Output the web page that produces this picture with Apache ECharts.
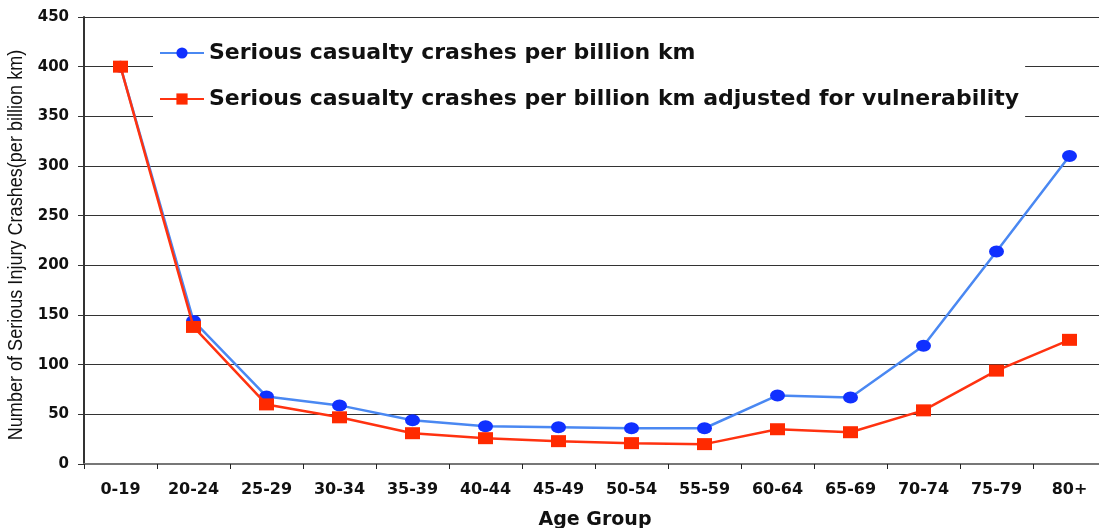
<!DOCTYPE html>
<html>
<head>
<meta charset="utf-8">
<script src="https://cdn.jsdelivr.net/npm/echarts@6/dist/echarts.min.js"></script>
<style>
  html, body { margin: 0; padding: 0; background: #fff; }
  #chart { width: 1099px; height: 528px; }
</style>
</head>
<body>
<div id="chart"></div>
<script>
// Age bands on the horizontal axis
const ageGroups = ['0-19', '20-24', '25-29', '30-34', '35-39', '40-44', '45-49',
                   '50-54', '55-59', '60-64', '65-69', '70-74', '75-79', '80+'];

// Serious casualty crashes per billion km driven
const crashesPerBillionKm = [400, 144, 68, 59, 44, 38, 37, 36, 36, 69, 67, 119, 214, 310];

// Same rate adjusted for the driver's vulnerability
const crashesAdjusted = [400, 138, 60, 47, 31, 26, 23, 21, 20, 35, 32, 54, 94, 125];

const seriesNames = [
  'Serious casualty crashes per billion km',
  'Serious casualty crashes per billion km adjusted for vulnerability'
];

const yTicks = { min: 0, max: 450, interval: 50 };

const chart = echarts.init(document.getElementById('chart'), null, { renderer: 'canvas' });

const boldFont = { fontFamily: '"DejaVu Sans", Verdana, sans-serif', fontWeight: 'bold', color: '#111' };

chart.setOption({
  animation: false,
  backgroundColor: '#fff',
  grid: { left: 84, top: 17, bottom: 64, right: -7, containLabel: false, outerBoundsMode: 'none' },
  legend: {
    orient: 'vertical',
    left: 153,
    top: 30,
    padding: [12, 6, 12, 6],
    itemGap: 24,
    itemWidth: 44,
    itemHeight: 14,
    backgroundColor: '#fff',
    textStyle: Object.assign({ fontSize: 22 }, boldFont),
    data: seriesNames
  },
  xAxis: {
    type: 'category',
    data: ageGroups,
    boundaryGap: true,
    name: 'Age Group',
    nameLocation: 'middle',
    nameGap: 47,
    nameTextStyle: Object.assign({ fontSize: 19 }, boldFont),
    axisLine: { lineStyle: { color: '#777', width: 2 } },
    axisTick: { show: true, length: 5, lineStyle: { color: '#222', width: 1 } },
    axisLabel: Object.assign({ fontSize: 16, margin: 18, interval: 0 }, boldFont),
    splitLine: { show: false }
  },
  yAxis: {
    type: 'value',
    min: yTicks.min,
    max: yTicks.max,
    interval: yTicks.interval,
    axisLine: { show: true, lineStyle: { color: '#333', width: 2 } },
    axisTick: { show: true, length: 6, lineStyle: { color: '#333', width: 1 } },
    axisLabel: Object.assign({ fontSize: 15, margin: 15 }, boldFont),
    splitLine: { show: true, lineStyle: { color: '#333', width: 1 } }
  },
  graphic: [{
    type: 'text',
    x: 6,
    y: 245,
    rotation: Math.PI / 2,
    scaleX: 0.86,
    style: {
      text: 'Number of Serious Injury Crashes(per billion km)',
      font: '21px "Liberation Sans", Arial, sans-serif',
      fill: '#111',
      align: 'center',
      verticalAlign: 'top'
    }
  }],
  series: [
    {
      name: seriesNames[0],
      type: 'line',
      data: crashesPerBillionKm,
      symbol: 'circle',
      symbolSize: [15, 12],
      showAllSymbol: true,
      lineStyle: { color: '#4a88f2', width: 2.5 },
      itemStyle: { color: '#1030ff' },
      z: 2
    },
    {
      name: seriesNames[1],
      type: 'line',
      data: crashesAdjusted,
      symbol: 'rect',
      symbolSize: [15, 12],
      showAllSymbol: true,
      lineStyle: { color: '#ff3210', width: 2.5 },
      itemStyle: { color: '#ff2a00' },
      z: 3
    }
  ]
});
</script>
</body>
</html>
